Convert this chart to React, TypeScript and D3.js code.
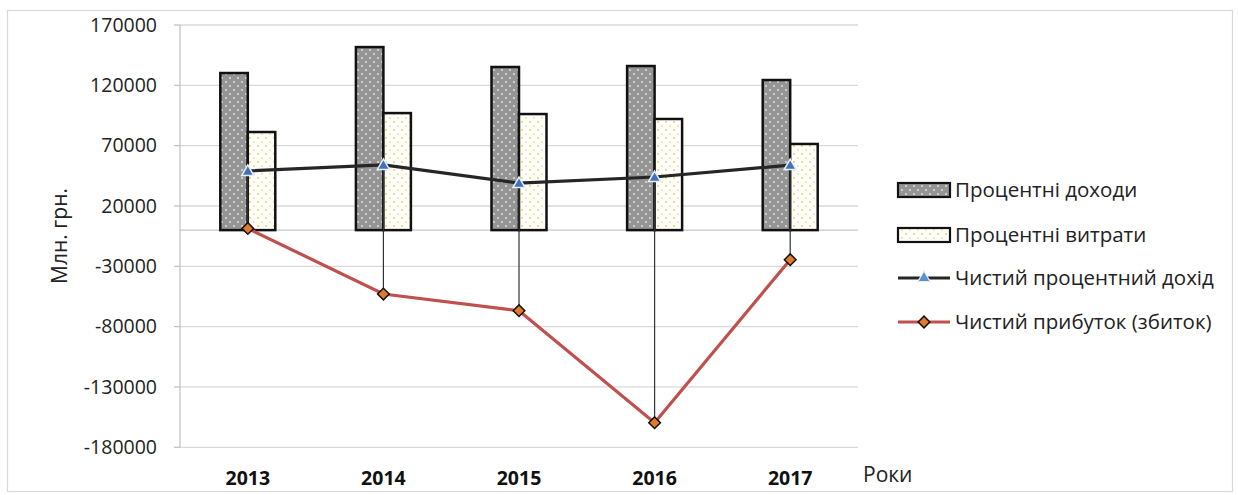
import React from "react";
import * as d3 from "d3";

// Banking sector results, UAH million
const years = ["2013", "2014", "2015", "2016", "2017"];
const interestIncome = [130200, 151700, 135200, 136000, 124400];
const interestExpense = [81300, 97000, 96200, 92100, 71400];
const netInterestIncome = [49000, 54000, 39000, 44000, 53900];
const netProfit = [1400, -53000, -66800, -159600, -24500];
const yTicks = [170000, 120000, 70000, 20000, -30000, -80000, -130000, -180000];

const legendLabels = [
  "Процентні доходи",
  "Процентні витрати",
  "Чистий процентний дохід",
  "Чистий прибуток (збиток)",
];

const W = 1238;
const H = 495;
const FONT = "'Open Sans', 'Liberation Sans', sans-serif";

export default function App() {
  const x = d3.scaleBand<string>().domain(years).range([180, 858]);
  const y = d3.scaleLinear().domain([-180000, 170000]).range([447.3, 25]);
  const barW = 27.5;
  const cx = (yr: string) => (x(yr) as number) + x.bandwidth() / 2;

  const netLine = d3
    .line<number>()
    .x((_, i) => cx(years[i]))
    .y((v) => y(v));

  const tri = d3.symbol().type(d3.symbolTriangle).size(64)() as string;
  const diamond = d3.symbol().type(d3.symbolSquare).size(68)() as string;

  const legendX0 = 898;
  const legendX1 = 950;
  const legendRows = [190, 235, 278, 322];

  return (
    <svg
      width={W}
      height={H}
      style={{ position: "absolute", left: 0, top: 0, background: "#fff" }}
    >
      <defs>
        <pattern id="dotsGray" width="8" height="8" patternUnits="userSpaceOnUse">
          <rect width="8" height="8" fill="#959595" />
          <circle cx="2" cy="2" r="0.9" fill="#e6e6e6" />
          <circle cx="6" cy="6" r="0.9" fill="#e6e6e6" />
        </pattern>
        <pattern id="dotsYellow" width="8" height="8" patternUnits="userSpaceOnUse">
          <rect width="8" height="8" fill="#ffffff" />
          <circle cx="2" cy="2" r="0.9" fill="#f0c93a" />
          <circle cx="6" cy="6" r="0.9" fill="#f3dc8a" />
        </pattern>
      </defs>

      {/* outer frame */}
      <rect x={7.5} y={10.5} width={1225} height={481} fill="#fff" stroke="#d9d9d9" strokeWidth={1.2} />

      {/* gridlines */}
      {yTicks.map((t) => (
        <line key={t} x1={180} x2={858} y1={y(t)} y2={y(t)} stroke="#d9d9d9" strokeWidth={1.3} />
      ))}
      {/* category axis at zero */}
      <line x1={180} x2={858} y1={y(0)} y2={y(0)} stroke="#c8c8c8" strokeWidth={1.3} />
      {/* value axis */}
      <line x1={180} x2={180} y1={y(170000)} y2={y(-180000)} stroke="#bfbfbf" strokeWidth={1.2} />
      {yTicks.map((t) => (
        <g key={"t" + t}>
          <line x1={174} x2={180} y1={y(t)} y2={y(t)} stroke="#bfbfbf" strokeWidth={1.2} />
          <text
            x={157}
            y={y(t)}
            dy="0.35em"
            textAnchor="end"
            fontFamily={FONT}
            fontSize={19.5}
            fill="#222"
          >
            {t}
          </text>
        </g>
      ))}

      {/* y title */}
      <text
        transform="translate(67,236) rotate(-90)"
        textAnchor="middle"
        fontFamily={FONT}
        fontSize={21}
        fill="#222"
      >
        Млн. грн.
      </text>

      {/* bars */}
      {years.map((yr, i) => (
        <g key={"b" + yr}>
          <rect
            x={cx(yr) - barW}
            y={y(interestIncome[i])}
            width={barW}
            height={y(0) - y(interestIncome[i])}
            fill="url(#dotsGray)"
            stroke="#111"
            strokeWidth={2.5}
          />
          <rect
            x={cx(yr)}
            y={y(interestExpense[i])}
            width={barW}
            height={y(0) - y(interestExpense[i])}
            fill="url(#dotsYellow)"
            stroke="#111"
            strokeWidth={2.5}
          />
        </g>
      ))}

      {/* high-low lines between the two line series */}
      {years.map((yr, i) => (
        <line
          key={"hl" + yr}
          x1={cx(yr)}
          x2={cx(yr)}
          y1={y(Math.max(netInterestIncome[i], netProfit[i]))}
          y2={y(Math.min(netInterestIncome[i], netProfit[i]))}
          stroke="#333"
          strokeWidth={1.2}
        />
      ))}

      {/* net interest income */}
      <path d={netLine(netInterestIncome) as string} fill="none" stroke="#262626" strokeWidth={3.2} />
      {netInterestIncome.map((v, i) => (
        <path
          key={"tr" + i}
          d={tri}
          transform={`translate(${cx(years[i])},${y(v) + 1})`}
          fill="#3f73b5"
          stroke="#e8eef7"
          strokeWidth={1.5}
        />
      ))}

      {/* net profit (loss) */}
      <path d={netLine(netProfit) as string} fill="none" stroke="#c0504d" strokeWidth={3.2} />
      {netProfit.map((v, i) => (
        <path
          key={"dm" + i}
          d={diamond}
          transform={`translate(${cx(years[i])},${y(v)}) rotate(45)`}
          fill="#e07b2a"
          stroke="#111"
          strokeWidth={1.5}
        />
      ))}

      {/* category labels */}
      {years.map((yr) => (
        <text
          key={"x" + yr}
          x={cx(yr)}
          y={485}
          textAnchor="middle"
          fontFamily={FONT}
          fontWeight="bold"
          fontSize={19.5}
          fill="#111"
        >
          {yr}
        </text>
      ))}
      <text x={863} y={482} fontFamily={FONT} fontSize={21} fill="#222">
        Роки
      </text>

      {/* legend */}
      <rect x={legendX0} y={legendRows[0] - 7} width={legendX1 - legendX0} height={14} fill="url(#dotsGray)" stroke="#111" strokeWidth={2.2} />
      <rect x={legendX0} y={legendRows[1] - 7} width={legendX1 - legendX0} height={14} fill="url(#dotsYellow)" stroke="#111" strokeWidth={2.2} />
      <line x1={legendX0} x2={legendX1} y1={legendRows[2]} y2={legendRows[2]} stroke="#262626" strokeWidth={3.2} />
      <path d={tri} transform={`translate(${(legendX0 + legendX1) / 2},${legendRows[2]})`} fill="#5b8fd0" stroke="#e8eef7" strokeWidth={1.2} />
      <line x1={legendX0} x2={legendX1} y1={legendRows[3]} y2={legendRows[3]} stroke="#c0504d" strokeWidth={3.2} />
      <path d={diamond} transform={`translate(${(legendX0 + legendX1) / 2},${legendRows[3]}) rotate(45)`} fill="#e07b2a" stroke="#111" strokeWidth={1.5} />
      {legendLabels.map((l, i) => (
        <text
          key={l}
          x={955}
          y={legendRows[i]}
          dy="0.35em"
          fontFamily={FONT}
          fontSize={20.5}
          fill="#222"
        >
          {l}
        </text>
      ))}
    </svg>
  );
}
